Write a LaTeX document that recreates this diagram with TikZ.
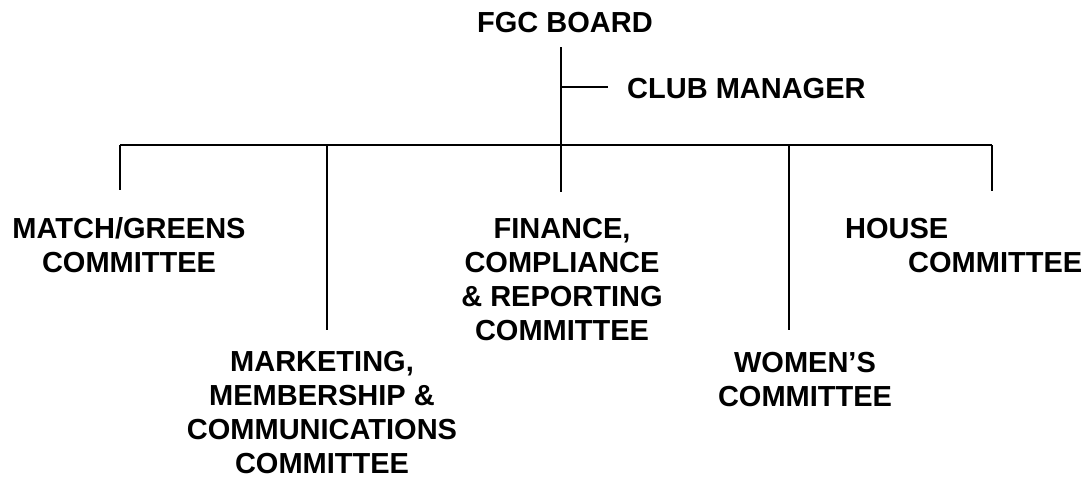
\documentclass[tikz,border=0pt]{standalone}
\usepackage{fontspec}
\setmainfont{Liberation Sans}
\begin{document}
\begin{tikzpicture}[x=1pt,y=-1pt,
  lab/.style={font=\fontsize{29}{34}\selectfont\bfseries, inner sep=0pt, align=center},
  conn/.style={line width=2pt}]
\useasboundingbox (0,0) rectangle (1087,477);
% nodes (base anchor = baseline of the last line)
\node[lab, anchor=base] (board) at (565,32) {FGC BOARD};
\node[lab, anchor=base west] (mgr) at (627,98) {CLUB MANAGER};
\node[lab, anchor=base] (match) at (129,272) {MATCH/GREENS\\COMMITTEE};
\node[lab, anchor=base] (mkt) at (322,473) {MARKETING,\\MEMBERSHIP \&\\COMMUNICATIONS\\COMMITTEE};
\node[lab, anchor=base] (fin) at (562,340) {FINANCE,\\COMPLIANCE\\\& REPORTING\\COMMITTEE};
\node[lab, anchor=base] (wom) at (805,406) {WOMEN’S\\COMMITTEE};
\node[lab, anchor=base west, align=left] (house) at (845,272) {HOUSE\\\hspace*{63pt}COMMITTEE};
% coordinates
\coordinate (ttop) at (561,47);
\coordinate (tmgr) at (561,87);
\coordinate (mgrend) at (608,87);
\coordinate (barL) at (120,145);
\coordinate (barR) at (992,145);
\coordinate (dMatch) at (120,190);
\coordinate (tMkt) at (327,145);
\coordinate (dMkt) at (327,330);
\coordinate (dFin) at (561,192);
\coordinate (tWom) at (789,145);
\coordinate (dWom) at (789,330);
\coordinate (dHouse) at (992,191);
% connectors
\draw[conn] (ttop) -- (dFin);
\draw[conn] (tmgr) -- (mgrend);
\draw[conn] (barL) -- (barR);
\draw[conn] (barL) -- (dMatch);
\draw[conn] (tMkt) -- (dMkt);
\draw[conn] (tWom) -- (dWom);
\draw[conn] (barR) -- (dHouse);
\end{tikzpicture}
\end{document}
